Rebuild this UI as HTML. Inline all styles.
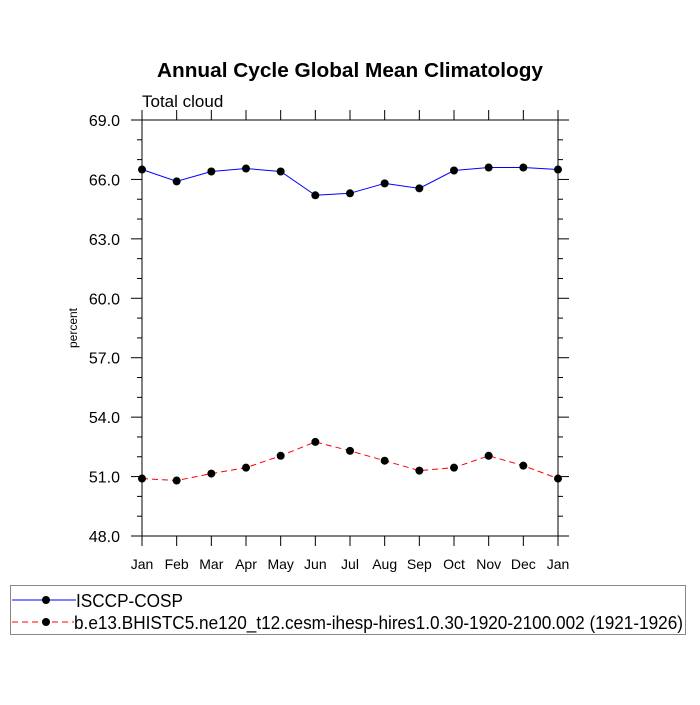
<!DOCTYPE html>
<html><head><meta charset="utf-8"><style>
body{margin:0;background:#fff;}
svg text{font-family:"Liberation Sans",sans-serif;}
</style></head><body>
<svg id="chart" width="700" height="700" xmlns="http://www.w3.org/2000/svg">
<text x="157" y="77" textLength="386" lengthAdjust="spacingAndGlyphs" font-size="20" font-weight="bold">Annual Cycle Global Mean Climatology</text>
<text x="142" y="107" font-size="17">Total cloud</text>
<text transform="translate(77,328) rotate(-90)" text-anchor="middle" font-size="12">percent</text>
<rect x="142" y="120" width="416" height="416" fill="none" stroke="#000" stroke-width="1"/>
<g id="axes"></g>
<g id="series"></g>
<rect x="10.5" y="585.5" width="675" height="49" fill="#fff" stroke="#888"/>
<g>
<line x1="12" y1="600" x2="76" y2="600" stroke="#0000ff" stroke-width="1"/>
<circle cx="46" cy="600" r="4" fill="#000"/>
<text x="76" y="607" font-size="18" textLength="107" lengthAdjust="spacingAndGlyphs">ISCCP-COSP</text>
</g>
<g>
<line x1="12" y1="622" x2="74" y2="622" stroke="#ff0000" stroke-width="1" stroke-dasharray="6,4"/>
<circle cx="46" cy="622" r="4" fill="#000"/>
<text x="74" y="629" font-size="18" textLength="609" lengthAdjust="spacingAndGlyphs">b.e13.BHISTC5.ne120_t12.cesm-ihesp-hires1.0.30-1920-2100.002 (1921-1926)</text>
</g>
</svg>
<script>
const months=["Jan","Feb","Mar","Apr","May","Jun","Jul","Aug","Sep","Oct","Nov","Dec","Jan"];
const isccp=[66.5,65.9,66.4,66.55,66.4,65.2,65.3,65.8,65.55,66.45,66.6,66.6,66.5];
const model=[50.9,50.8,51.15,51.45,52.05,52.75,52.3,51.8,51.3,51.45,52.05,51.55,50.9];
const yTicks=[48,51,54,57,60,63,66,69];
const yMin=48,yMax=69,X0=142,X1=558,Y0=536,Y1=120;
const NS="http://www.w3.org/2000/svg";
function xs(i){return X0+(X1-X0)*i/(months.length-1);}
function ys(v){return Y0-(v-yMin)/(yMax-yMin)*(Y0-Y1);}
function mk(t,a,p){const e=document.createElementNS(NS,t);for(const k in a)e.setAttribute(k,a[k]);p.appendChild(e);return e;}
const ax=document.getElementById('axes');
months.forEach((m,i)=>{
 const x=xs(i);
 const t1=mk('line',{x1:x,y1:536,x2:x,y2:546,stroke:'#000'},ax);
 
 
 mk('line',{x1:x,y1:120,x2:x,y2:110,stroke:'#000'},ax);
 const t=mk('text',{x:x,y:569,'text-anchor':'middle','font-size':'14'},ax);
 t.textContent=m;
 
 
});
for(let v=yMin;v<=yMax;v+=1){
 const y=ys(v);const major=yTicks.includes(v);const L=major?11:5;
 mk('line',{x1:X0-L,y1:y,x2:X0,y2:y,stroke:'#000'},ax);
 mk('line',{x1:X1,y1:y,x2:X1+L,y2:y,stroke:'#000'},ax);
}
yTicks.forEach(v=>{
 const t=mk('text',{x:120,y:ys(v)+6,'text-anchor':'end','font-size':'16'},ax);
 t.textContent=v.toFixed(1);
 
 
});
const sg=document.getElementById('series');
function draw(vals,color,dash,name){
 const pts=vals.map((v,i)=>xs(i)+','+ys(v)).join(' ');
 const pl=mk('polyline',{points:pts,fill:'none',stroke:color,'stroke-width':1},sg);
 if(dash)pl.setAttribute('stroke-dasharray',dash);
 
 
 vals.forEach((v,i)=>{
  const c=mk('circle',{cx:xs(i),cy:ys(v),r:4,fill:'#000'},sg);
  
  
 });
}
draw(isccp,'#0000ff',null,'isccp');
draw(model,'#ff0000','6,4','model');
</script>
</body></html>
